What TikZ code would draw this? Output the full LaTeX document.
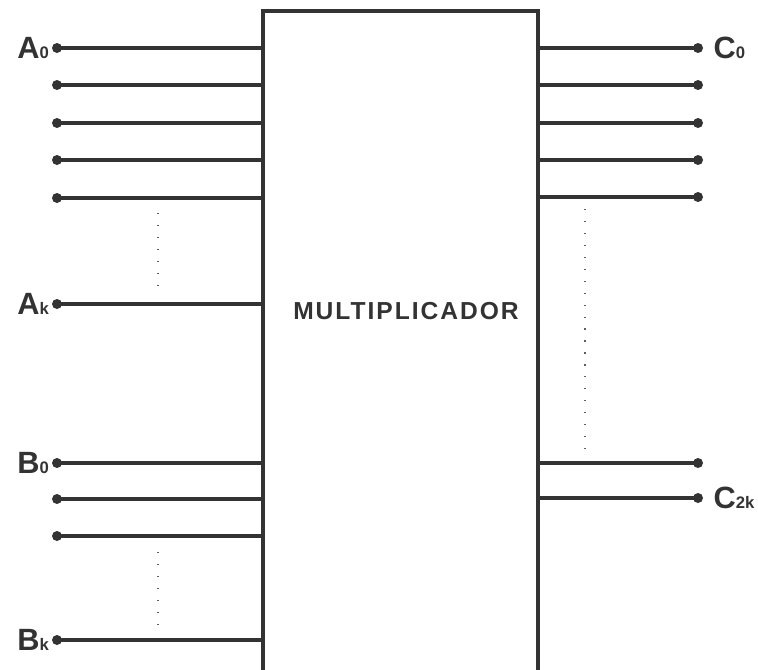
\documentclass[tikz,border=0pt]{standalone}
\usepackage{fontspec}
\setmainfont{Liberation Sans}
\usetikzlibrary{positioning}

\definecolor{cinza}{HTML}{333333}
\newcommand{\subidx}[1]{{\fontsize{9.5}{10}\selectfont #1}}

\tikzset{
    pino/.style={circle, fill=cinza, inner sep=0pt, minimum size=0.2cm},
    fio/.style={cinza, line width=0.07cm},
    rotulo/.style={text=cinza, font=\fontsize{17.5}{18}\selectfont\bfseries, inner sep=0pt},
    reticencias/.style={cinza!80, line width=0.7pt, dash pattern=on 0.7pt off 6.1pt},
}

\begin{document}
\begin{tikzpicture}[x=0.02cm, y=-0.02cm]
    \useasboundingbox (0,0) rectangle (758,670);

    % Bloco multiplicador (aberto em baixo)
    \coordinate (boxL) at (263,11);
    \coordinate (boxR) at (538,11);
    \draw[cinza, line width=0.08cm] (263,672) -- (boxL) -- (boxR) -- (538,672);
    \node[text=cinza, font=\fontsize{14}{14}\selectfont\bfseries] (mult) at (406,311)
        {\addfontfeature{LetterSpace=8}MULTIPLICADOR};

    % Entradas A
    \node[pino] (a0) at (57,48) {};
    \node[pino] (a1) at (57,85) {};
    \node[pino] (a2) at (57,123) {};
    \node[pino] (a3) at (57,160) {};
    \node[pino] (a4) at (57,198) {};
    \node[pino] (ak) at (57,304) {};
    \draw[fio] (a0.center) -- (a0 -| boxL);
    \draw[fio] (a1.center) -- (a1 -| boxL);
    \draw[fio] (a2.center) -- (a2 -| boxL);
    \draw[fio] (a3.center) -- (a3 -| boxL);
    \draw[fio] (a4.center) -- (a4 -| boxL);
    \draw[fio] (ak.center) -- (ak -| boxL);
    \node[rotulo, left=0.05cm of a0] (la0) {A\subidx{0}};
    \node[rotulo, left=0.05cm of ak] (lak) {A\subidx{k}};
    \draw[reticencias] (158,213) -- (158,287);

    % Entradas B
    \node[pino] (b0) at (57,463) {};
    \node[pino] (b1) at (57,499) {};
    \node[pino] (b2) at (57,536) {};
    \node[pino] (bk) at (57,640) {};
    \draw[fio] (b0.center) -- (b0 -| boxL);
    \draw[fio] (b1.center) -- (b1 -| boxL);
    \draw[fio] (b2.center) -- (b2 -| boxL);
    \draw[fio] (bk.center) -- (bk -| boxL);
    \node[rotulo, left=0.05cm of b0] (lb0) {B\subidx{0}};
    \node[rotulo, left=0.05cm of bk] (lbk) {B\subidx{k}};
    \draw[reticencias] (158,552) -- (158,626);

    % Saidas C
    \node[pino] (c0) at (698,48) {};
    \node[pino] (c1) at (698,85) {};
    \node[pino] (c2) at (698,123) {};
    \node[pino] (c3) at (698,160) {};
    \node[pino] (c4) at (698,197) {};
    \node[pino] (c5) at (698,463) {};
    \node[pino] (c2k) at (698,498) {};
    \draw[fio] (c0 -| boxR) -- (c0.center);
    \draw[fio] (c1 -| boxR) -- (c1.center);
    \draw[fio] (c2 -| boxR) -- (c2.center);
    \draw[fio] (c3 -| boxR) -- (c3.center);
    \draw[fio] (c4 -| boxR) -- (c4.center);
    \draw[fio] (c5 -| boxR) -- (c5.center);
    \draw[fio] (c2k -| boxR) -- (c2k.center);
    \node[rotulo, right=0.2cm of c0] (lc0) {C\subidx{0}};
    \node[rotulo, right=0.2cm of c2k] (lc2k) {C\subidx{2k}};
    \draw[reticencias] (585,209) -- (585,455);
\end{tikzpicture}
\end{document}
